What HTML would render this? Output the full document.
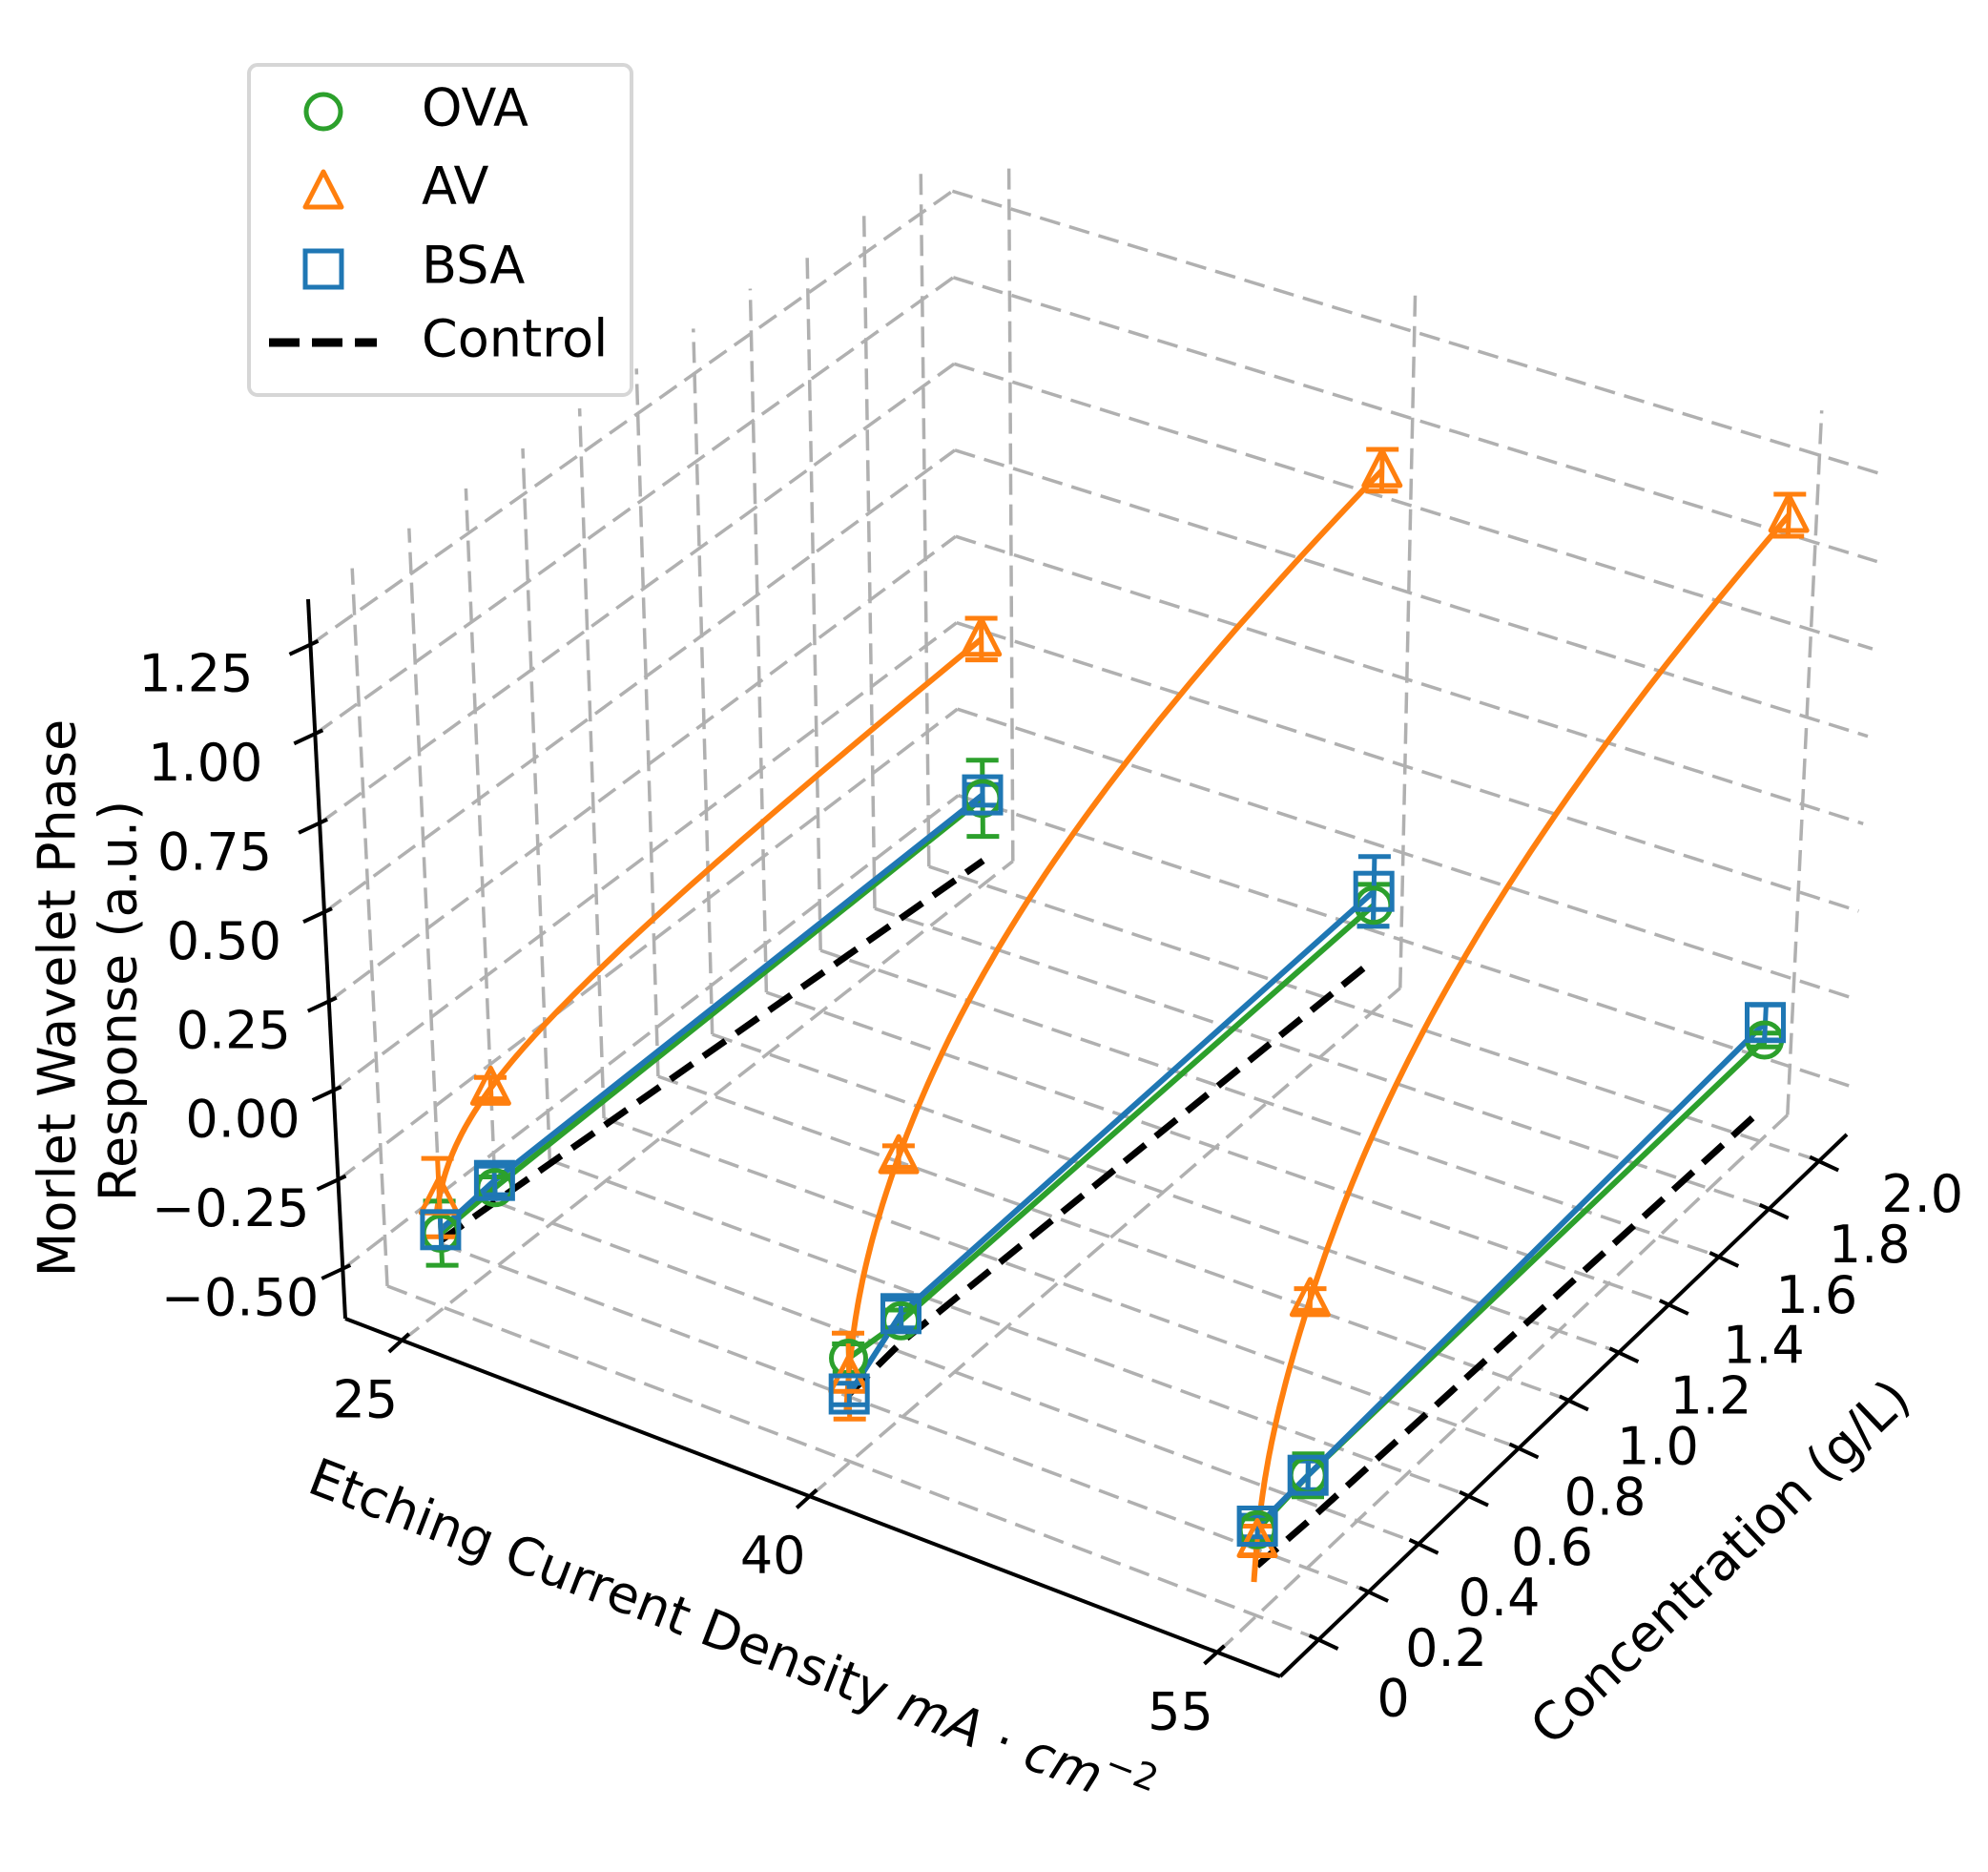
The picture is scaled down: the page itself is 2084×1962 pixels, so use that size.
<!DOCTYPE html>
<html><head><meta charset="utf-8"><style>
html,body{margin:0;padding:0;background:#fff;}
svg{display:block;font-family:"DejaVu Sans","Liberation Sans",sans-serif;}
</style></head><body>
<svg id="chart" width="2084" height="1962" viewBox="0 0 2084 1962" xmlns="http://www.w3.org/2000/svg">
<rect x="0" y="0" width="2084" height="1962" fill="#fff"/>
<g id="grid"></g>
<g id="axes"></g>
<g id="series"></g>
<g id="labels">
<text x="0" y="0" font-size="54" text-anchor="middle" dominant-baseline="middle" transform="translate(64,1046) rotate(-90)">Morlet Wavelet Phase</text>
<text x="0" y="0" font-size="54" text-anchor="middle" dominant-baseline="middle" transform="translate(128,1049) rotate(-90)">Response (a.u.)</text>
<text x="0" y="0" font-size="54" text-anchor="middle" dominant-baseline="middle" transform="translate(765,1718) rotate(21)">Etching Current Density <tspan font-style="italic">mA</tspan><tspan> · </tspan><tspan font-style="italic">cm</tspan><tspan font-size="38" dy="-20">−2</tspan></text>
<text x="0" y="0" font-size="54" text-anchor="middle" dominant-baseline="middle" transform="translate(1806,1640) rotate(-43.7)">Concentration (g/L)</text>
</g>
<g id="legend">
<rect x="261" y="68" width="401" height="346" rx="9" fill="#fff" fill-opacity="0.8" stroke="#d6d6d6" stroke-width="4"/>
<g>
<circle cx="339" cy="117" r="18" fill="none" stroke="#2ca02c" stroke-width="5"/>
<text x="442" y="117" font-size="54" dominant-baseline="middle">OVA</text></g>
<g>
<polygon points="339,180 358,217 320,217" fill="none" stroke="#ff7f0e" stroke-width="5" stroke-linejoin="round"/>
<text x="442" y="199" font-size="54" dominant-baseline="middle">AV</text></g>
<g>
<rect x="320" y="263" width="38" height="38" fill="none" stroke="#1f77b4" stroke-width="5"/>
<text x="442" y="282" font-size="54" dominant-baseline="middle">BSA</text></g>
<g>
<line x1="282" y1="359" x2="395" y2="359" stroke="#000" stroke-width="9" stroke-dasharray="32,13"/>
<text x="442" y="359" font-size="54" dominant-baseline="middle">Control</text></g>
</g>
</svg>
<script>
// ---- data ----
const currentDensities = [25, 40, 55];
const concentrations = [0.0, 0.2, 2.0];
const ovaValues = [[-0.43, -0.42, -0.39], [-0.35, -0.37, -0.33], [-0.40, -0.38, -0.35]];
const avValues = [[-0.33, -0.14, 0.07], [-0.40, 0.09, 0.92], [-0.43, 0.11, 1.15]];
const bsaValues = [[-0.42, -0.40, -0.38], [-0.45, -0.35, -0.29], [-0.39, -0.38, -0.30]];
const controlValues = [[-0.45, -0.46, -0.57], [-0.45, -0.43, -0.49], [-0.50, -0.51, -0.55]];
const ovaErr = [[0.09, 0.03, 0.11], [0.04, 0.03, 0.06], [0.03, 0.06, 0.02]];
const avErr = [[0.11, 0.03, 0.06], [0.12, 0.03, 0.06], [0.04, 0.03, 0.06]];
const bsaErr = [[0.05, 0.04, 0.03], [0.03, 0.04, 0.10], [0.03, 0.04, 0.05]];
const xTicks = [25, 40, 55];
const yTicks = [0, 0.2, 0.4, 0.6, 0.8, 1.0, 1.2, 1.4, 1.6, 1.8, 2.0];
const yTickLabels = ["0", "0.2", "0.4", "0.6", "0.8", "1.0", "1.2", "1.4", "1.6", "1.8", "2.0"];
const zTicks = [-0.5, -0.25, 0, 0.25, 0.5, 0.75, 1.0, 1.25];
const zTickLabels = ["\u22120.50", "\u22120.25", "0.00", "0.25", "0.50", "0.75", "1.00", "1.25"];

// ---- projection ----
const X0 = 22.9, X1 = 57.3, Y0 = -0.155, Y1 = 2.11, Z0 = -0.639, Z1 = 1.378;
const K = {c000:[362,1382], c100:[1342,1757], c010:[1005,884], c110:[1936,1189],
           c001:[323,628], c101:[1349,994], c011:[998,154], c111:[1975,450]};
function P(x, y, z) {
  const u = (x - X0) / (X1 - X0), v = (y - Y0) / (Y1 - Y0), w = (z - Z0) / (Z1 - Z0);
  const r = [0, 0];
  for (let i = 0; i < 2; i++) {
    const b = K.c000[i]*(1-u)*(1-v) + K.c100[i]*u*(1-v) + K.c010[i]*(1-u)*v + K.c110[i]*u*v;
    const t = K.c001[i]*(1-u)*(1-v) + K.c101[i]*u*(1-v) + K.c011[i]*(1-u)*v + K.c111[i]*u*v;
    r[i] = b*(1-w) + t*w;
  }
  return r;
}
const NS = "http://www.w3.org/2000/svg";
function mk(tag, attrs, parent) {
  const e = document.createElementNS(NS, tag);
  for (const k in attrs) e.setAttribute(k, attrs[k]);
  parent.appendChild(e);
  return e;
}
const gGrid = document.getElementById('grid');
const gAxes = document.getElementById('axes');
const gSer = document.getElementById('series');
const gridStyle = {stroke:'#b0b0b0', 'stroke-width':3.5, 'stroke-dasharray':'22,10', fill:'none'};
function seg(parent, a, b, style, name) {
  const e = mk('line', Object.assign({x1:a[0].toFixed(1), y1:a[1].toFixed(1), x2:b[0].toFixed(1), y2:b[1].toFixed(1)}, style), parent);
  
  
  return e;
}
xTicks.forEach(x => seg(gGrid, P(x,Y0,Z0), P(x,Y1,Z0), gridStyle, 'floor-grid-x'));
yTicks.forEach(y => seg(gGrid, P(X0,y,Z0), P(X1,y,Z0), gridStyle, 'floor-grid-y'));
yTicks.forEach(y => seg(gGrid, P(X0,y,Z0), P(X0,y,Z1), gridStyle, 'left-pane-grid-y'));
zTicks.forEach(z => seg(gGrid, P(X0,Y0,z), P(X0,Y1,z), gridStyle, 'left-pane-grid-z'));
xTicks.forEach(x => seg(gGrid, P(x,Y1,Z0), P(x,Y1,Z1), gridStyle, 'back-pane-grid-x'));
zTicks.forEach(z => seg(gGrid, P(X0,Y1,z), P(X1,Y1,z), gridStyle, 'back-pane-grid-z'));

const axStyle = {stroke:'#000', 'stroke-width':4, fill:'none'};
seg(gAxes, P(X0,Y0,Z0), P(X0,Y0,Z1), axStyle, 'z-axis-line');
seg(gAxes, P(X0,Y0,Z0), P(X1,Y0,Z0), axStyle, 'x-axis-line');
seg(gAxes, P(X1,Y0,Z0), P(X1,Y1,Z0), axStyle, 'y-axis-line');
xTicks.forEach((x) => {
  const p = P(x, Y0, Z0);
  seg(gAxes, [p[0]+7,p[1]-7], [p[0]-14,p[1]+12], axStyle, 'x-tick');
  const t = mk('text', {x:(p[0]-39).toFixed(1), y:(p[1]+66).toFixed(1), 'font-size':54, 'text-anchor':'middle', 'dominant-baseline':'middle'}, gAxes);
  
  
  t.textContent = String(x);
});
yTicks.forEach((y, i) => {
  const p = P(X1, y, Z0);
  seg(gAxes, [p[0]-10,p[1]-4], [p[0]+20,p[1]+10], axStyle, 'y-tick');
  const f = y / 2.0;
  const ox = 78 + 30*f, oy = 66 - 27*f;
  const t = mk('text', {x:(p[0]+ox).toFixed(1), y:(p[1]+oy).toFixed(1), 'font-size':54, 'text-anchor':'middle', 'dominant-baseline':'middle'}, gAxes);
  
  
  t.textContent = yTickLabels[i];
});
zTicks.forEach((z, i) => {
  const p = P(X0, Y0, z);
  seg(gAxes, [p[0]+8,p[1]-4], [p[0]-22,p[1]+10], axStyle, 'z-tick');
  const f = (z - (-0.5)) / 1.75;
  const t = mk('text', {x:(p[0]-25-35*f).toFixed(1), y:(p[1]+34).toFixed(1), 'font-size':54, 'text-anchor':'end', 'dominant-baseline':'middle'}, gAxes);
  
  
  t.textContent = zTickLabels[i];
});

// ---- series ----
const C_OVA = '#2ca02c', C_AV = '#ff7f0e', C_BSA = '#1f77b4';
function polyline(pts, style, name) {
  const e = mk('polyline', Object.assign({points: pts.map(p => p[0].toFixed(1)+','+p[1].toFixed(1)).join(' '), fill:'none', 'stroke-linejoin':'round'}, style), gSer);
  
  
  return e;
}
const LOFF = 0.04;
function curvePts(xv, ys, zs) {
  const t = ys.map(y => Math.log(y + LOFF));
  const d = [(zs[1]-zs[0])/(t[1]-t[0]), (zs[2]-zs[1])/(t[2]-t[1])];
  const m = [d[0], (d[0]+d[1])/2, d[1]];
  const out = [];
  const tStart = Math.log(ys[0] + LOFF - 0.012);
  for (let k = 0; k <= 100; k++) {
    const tt = tStart + (t[2]-tStart)*k/100;
    let z;
    if (tt < t[0]) z = zs[0] + m[0]*(tt - t[0]);
    else {
      const s = tt <= t[1] ? 0 : 1;
      const h = t[s+1]-t[s], q = (tt - t[s])/h;
      const h00 = 2*q*q*q-3*q*q+1, h10 = q*q*q-2*q*q+q, h01 = -2*q*q*q+3*q*q, h11 = q*q*q-q*q;
      z = h00*zs[s] + h10*h*m[s] + h01*zs[s+1] + h11*h*m[s+1];
    }
    out.push(P(xv, Math.exp(tt) - LOFF, z));
  }
  return out;
}
function errbar(xv, yv, zv, e, col, name) {
  const a = P(xv, yv, zv - e), b = P(xv, yv, zv + e);
  const st = {stroke:col, 'stroke-width':5};
  seg(gSer, a, b, st, name);
  seg(gSer, [a[0]-17,a[1]], [a[0]+17,a[1]], st, name + '-cap');
  seg(gSer, [b[0]-17,b[1]], [b[0]+17,b[1]], st, name + '-cap');
}
function marker(kind, p, col, name) {
  let e;
  if (kind === 'circle') e = mk('circle', {cx:p[0].toFixed(1), cy:p[1].toFixed(1), r:18, fill:'none', stroke:col, 'stroke-width':5}, gSer);
  else if (kind === 'square') e = mk('rect', {x:(p[0]-19).toFixed(1), y:(p[1]-19).toFixed(1), width:38, height:38, fill:'none', stroke:col, 'stroke-width':5}, gSer);
  else e = mk('polygon', {points:`${p[0].toFixed(1)},${(p[1]-21).toFixed(1)} ${(p[0]+19).toFixed(1)},${(p[1]+16).toFixed(1)} ${(p[0]-19).toFixed(1)},${(p[1]+16).toFixed(1)}`, fill:'none', stroke:col, 'stroke-width':5, 'stroke-linejoin':'round'}, gSer);
  
  
}
currentDensities.forEach((xv, g) => {
  const proj = vals => concentrations.map((y, i) => P(xv, y, vals[g][i]));
  polyline(proj(controlValues), {stroke:'#000', 'stroke-width':7, 'stroke-dasharray':'28,14'}, 'control-line');
  polyline(proj(ovaValues), {stroke:C_OVA, 'stroke-width':6}, 'ova-line');
  polyline(curvePts(xv, concentrations, avValues[g]), {stroke:C_AV, 'stroke-width':6}, 'av-curve');
  polyline(proj(bsaValues), {stroke:C_BSA, 'stroke-width':6}, 'bsa-line');
  concentrations.forEach((y, i) => {
    errbar(xv, y, ovaValues[g][i], ovaErr[g][i], C_OVA, 'ova-errorbar');
    errbar(xv, y, avValues[g][i], avErr[g][i], C_AV, 'av-errorbar');
    errbar(xv, y, bsaValues[g][i], bsaErr[g][i], C_BSA, 'bsa-errorbar');
  });
  concentrations.forEach((y, i) => {
    marker('circle', P(xv, y, ovaValues[g][i]), C_OVA, 'ova-point');
    marker('triangle', P(xv, y, avValues[g][i]), C_AV, 'av-point');
    marker('square', P(xv, y, bsaValues[g][i]), C_BSA, 'bsa-point');
  });
});
</script>
</body></html>
